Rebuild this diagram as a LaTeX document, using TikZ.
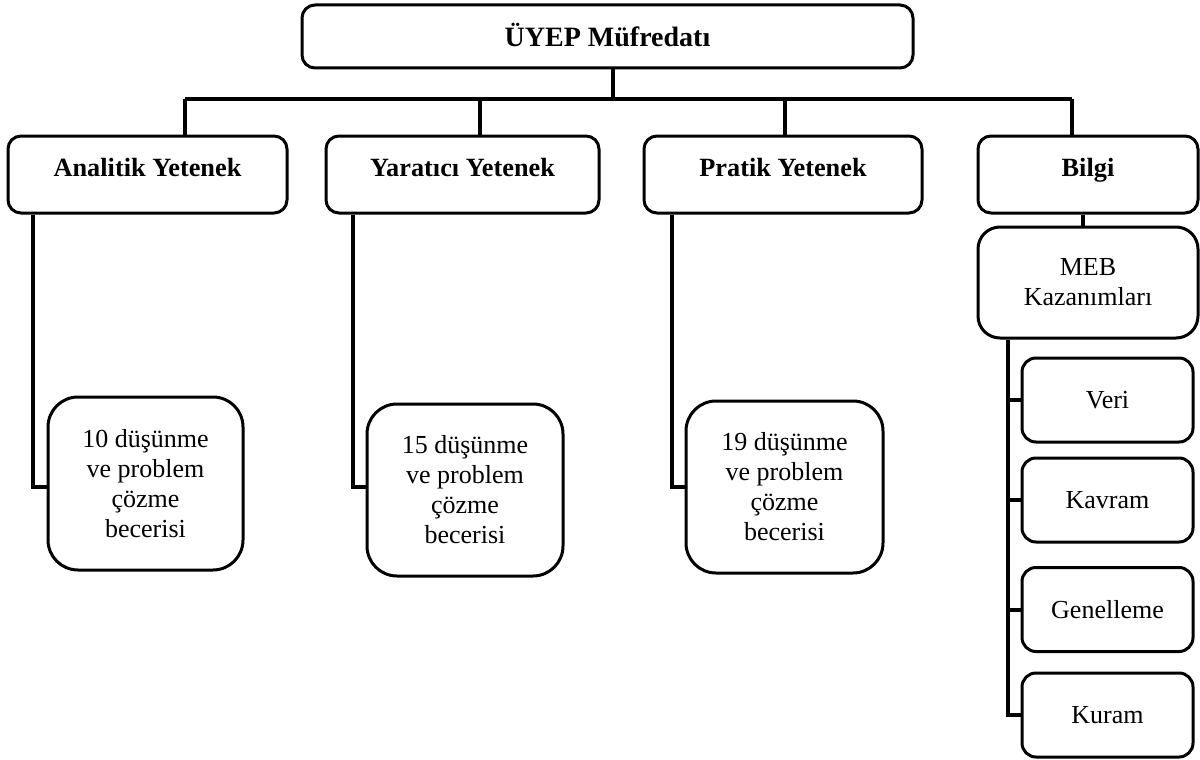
\documentclass[tikz,border=0pt]{standalone}
\usepackage{fontspec}
\setmainfont{Liberation Serif}
\begin{document}
\begin{tikzpicture}[x=1pt,y=-1pt,
  box/.style={draw, line width=3pt, inner sep=0pt, align=center, fill=white},
  headbox/.style={box, rounded corners=13pt, font=\fontsize{26.3}{30}\selectfont\bfseries,
     text height=19pt, text depth=16pt},
  topbox/.style={box, rounded corners=13pt, font=\fontsize{28}{32}\selectfont\bfseries,
     text height=24pt, text depth=3pt},
  leafbox/.style={box, rounded corners=30pt, font=\fontsize{26}{30}\selectfont},
  mebbox/.style={box, rounded corners=22pt, font=\fontsize{26}{30}\selectfont},
  smallbox/.style={box, rounded corners=14pt, font=\fontsize{26}{30}\selectfont,
     minimum width=171pt, minimum height=84pt},
  conn/.style={line width=4pt}]
\useasboundingbox (0,0) rectangle (1200,760);

% top
\node[topbox, minimum width=611pt, minimum height=63pt] (top) at (607.5,36.5) {ÜYEP Müfredatı};

% level 2
\node[headbox, minimum width=279pt, minimum height=77pt] (ana) at (147.5,174.5) {Analitik Yetenek};
\node[headbox, minimum width=273pt, minimum height=77pt] (yar) at (462.5,174.5) {Yaratıcı Yetenek};
\node[headbox, minimum width=278pt, minimum height=77pt] (pra) at (783,174.5) {Pratik Yetenek};
\node[headbox, minimum width=220pt, minimum height=77pt] (bil) at (1088,174.5) {Bilgi};

% leaves
\node[leafbox, minimum width=195pt, minimum height=173pt] (l1) at (145.5,483.5)
  {10 düşünme\\ve problem\\çözme\\becerisi};
\node[leafbox, minimum width=196pt, minimum height=172pt] (l2) at (465,490)
  {15 düşünme\\ve problem\\çözme\\becerisi};
\node[leafbox, minimum width=197pt, minimum height=172pt] (l3) at (784.5,487)
  {19 düşünme\\ve problem\\çözme\\becerisi};

% MEB
\node[mebbox, minimum width=220pt, minimum height=111pt] (meb) at (1088,282.5)
  {MEB\\Kazanımları};
\node[smallbox] (veri) at (1107.5,400) {Veri};
\node[smallbox] (kav) at (1107.5,500) {Kavram};
\node[smallbox] (gen) at (1107.5,609.5) {Genelleme};
\node[smallbox] (kur) at (1107.5,715) {Kuram};

% connector coordinates
\coordinate (bus) at (613,99);
\coordinate (b1) at (185,99);
\coordinate (b2) at (480,99);
\coordinate (b3) at (785,99);
\coordinate (b4) at (1072,99);
\coordinate (k1) at (33,487);
\coordinate (k2) at (353,487);
\coordinate (k3) at (672,487);
\coordinate (k4) at (1083,220);
\coordinate (k5) at (1008,400);

% connectors
\draw[conn] (bus |- top.south) -- (bus);
\draw[conn] (b1) -- (b4);
\draw[conn] (b1) -- (b1 |- ana.north);
\draw[conn] (b2) -- (b2 |- yar.north);
\draw[conn] (b3) -- (b3 |- pra.north);
\draw[conn] (b4) -- (b4 |- bil.north);

\draw[conn] (k1 |- ana.south) -- (k1) -- (k1 -| l1.west);
\draw[conn] (k2 |- yar.south) -- (k2) -- (k2 -| l2.west);
\draw[conn] (k3 |- pra.south) -- (k3) -- (k3 -| l3.west);

\draw[conn] (k4 |- bil.south) -- (k4 |- meb.north);
\draw[conn] (k5 |- meb.south) -- (k5 |- kur.west) -- (kur.west);
\draw[conn] (k5 |- veri.west) -- (veri.west);
\draw[conn] (k5 |- kav.west) -- (kav.west);
\draw[conn] (k5 |- gen.west) -- (gen.west);
\end{tikzpicture}
\end{document}
